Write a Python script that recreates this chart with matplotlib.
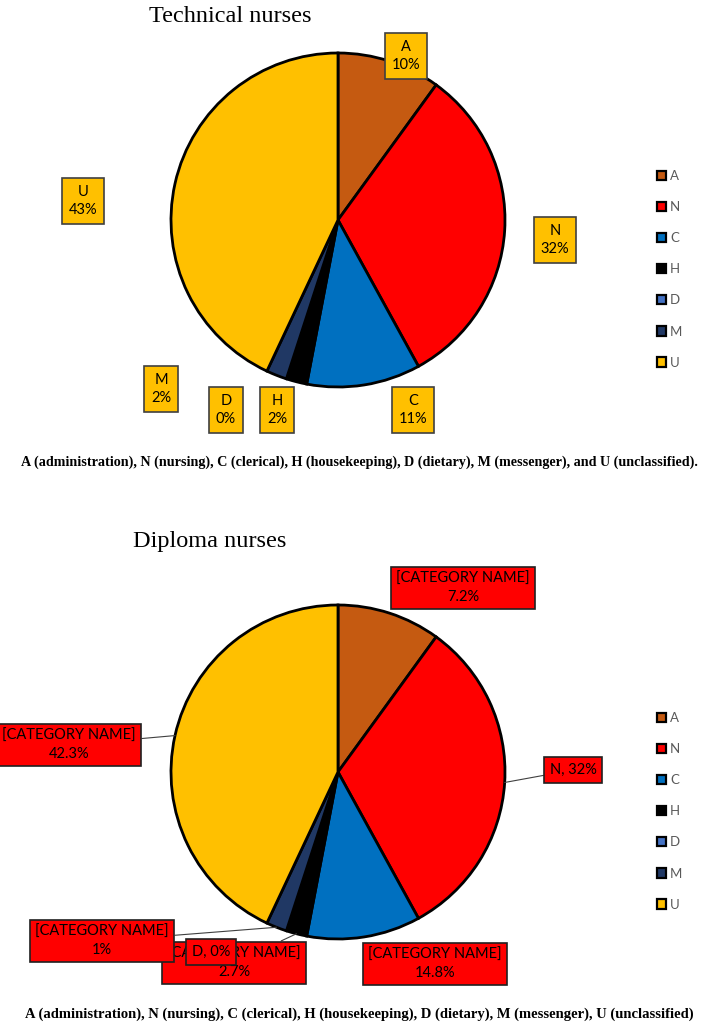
"""
Nurse work-time distribution by category — technical vs diploma nurses.
Two pies with boxed data labels, a legend for each, and a caption line.
"""

import matplotlib
matplotlib.use("Agg")
import matplotlib.pyplot as plt
from matplotlib.patches import Patch
import numpy as np

# ================================================================
# DATA
# ================================================================

CATEGORIES = ["A", "N", "C", "H", "D", "M", "U"]

# Technical nurses, share of time (%)
TECH_SHARE = [10, 32, 11, 2, 0, 2, 43]

# Diploma nurses: the source draws the wedges with these sizes
DIPLOMA_SHARE = [10, 32, 11, 2, 0, 2, 43]
# ...but its data labels carry different texts
DIPLOMA_LABELS = [
    "[CATEGORY NAME]\n7.2%",
    "N, 32%",
    "[CATEGORY NAME]\n14.8%",
    "[CATEGORY NAME]\n2.7%",
    "D, 0%",
    "[CATEGORY NAME]\n1%",
    "[CATEGORY NAME]\n42.3%",
]

TECH_TITLE = "Technical nurses"
DIPLOMA_TITLE = "Diploma nurses"
TECH_CAPTION = ("A (administration), N (nursing), C (clerical), H (housekeeping), "
                "D (dietary), M (messenger), and U (unclassified).")
DIPLOMA_CAPTION = ("A (administration), N (nursing), C (clerical), H (housekeeping), "
                   "D (dietary), M (messenger), U (unclassified)")

# ================================================================
# STYLE / LAYOUT (pixel space, origin top-left)
# ================================================================

W, H = 712, 1022
DPI = 100

COLORS = {
    "A": "#C55A11",
    "N": "#FF0000",
    "C": "#0070C0",
    "H": "#000000",
    "D": "#4472C4",
    "M": "#203864",
    "U": "#FFC000",
}

LABEL_FONT = ["Lato", "DejaVu Sans"]
SERIF = ["Liberation Serif", "DejaVu Serif"]

RADIUS = 167
TECH_CENTER = (338, 220)
DIPLOMA_CENTER = (338, 772)

# where each label box sits
TECH_LABEL_POS = {
    "A": (406, 56), "N": (555, 240), "C": (413, 410), "H": (277, 410),
    "D": (226, 410), "M": (161, 389), "U": (83, 201),
}
DIPLOMA_LABEL_POS = {
    "A": (463, 588), "N": (573, 770), "C": (435, 964), "H": (234, 963),
    "D": (211, 952), "M": (102, 941), "U": (69, 745),
}
# labels joined to their wedge by a leader line
DIPLOMA_LEADERS = ["N", "H", "M", "U"]
DIPLOMA_ZORDER = {"H": 5, "M": 6, "D": 7}


def draw_pie(ax, shares, center):
    """Clockwise pie from 12 o'clock (y axis is inverted, so counterclock in data)."""
    wedges, _ = ax.pie(
        shares, center=center, radius=RADIUS, startangle=-90, counterclock=True,
        colors=[COLORS[c] for c in CATEGORIES], normalize=True,
        wedgeprops=dict(edgecolor="black", linewidth=2.0),
    )
    return wedges


def wedge_anchor(wedge, center):
    """Point on the rim at the middle of a wedge (data coords)."""
    mid = np.deg2rad((wedge.theta1 + wedge.theta2) / 2)
    return (center[0] + RADIUS * np.cos(mid), center[1] + RADIUS * np.sin(mid))


def add_legend(fig, y_top):
    handles = [Patch(facecolor=COLORS[c], edgecolor="black", linewidth=1.6)
               for c in CATEGORIES]
    fig.legend(handles, CATEGORIES, loc="upper left",
               bbox_to_anchor=(645 / W, 1 - y_top / H),
               frameon=False, prop={"family": LABEL_FONT, "size": 9.5},
               labelcolor="#595959", labelspacing=1.45,
               handlelength=0.7, handleheight=0.7, handletextpad=0.3)


def main():
    fig = plt.figure(figsize=(W / DPI, H / DPI), dpi=DPI)
    ax = fig.add_axes([0, 0, 1, 1])

    # ---- Technical nurses ----
    draw_pie(ax, TECH_SHARE, TECH_CENTER)
    for cat, val in zip(CATEGORIES, TECH_SHARE):
        x, y = TECH_LABEL_POS[cat]
        ax.text(x, y, f"{cat}\n{val}%", ha="center", va="center",
                family=LABEL_FONT, fontsize=10.5, linespacing=1.4, zorder=5,
                bbox=dict(boxstyle="square,pad=0.45", facecolor="#FFC000",
                          edgecolor="#404040", linewidth=1.2))

    # ---- Diploma nurses ----
    wedges = draw_pie(ax, DIPLOMA_SHARE, DIPLOMA_CENTER)
    for cat, wedge, txt in zip(CATEGORIES, wedges, DIPLOMA_LABELS):
        arrow = None
        if cat in DIPLOMA_LEADERS:
            arrow = dict(arrowstyle="-", color="#404040", linewidth=0.8,
                         shrinkA=0, shrinkB=0)
        ax.annotate(txt, xy=wedge_anchor(wedge, DIPLOMA_CENTER),
                    xytext=DIPLOMA_LABEL_POS[cat], textcoords="data",
                    ha="center", va="center", family=LABEL_FONT, fontsize=10.5,
                    linespacing=1.35, zorder=DIPLOMA_ZORDER.get(cat, 5),
                    arrowprops=arrow,
                    bbox=dict(boxstyle="square,pad=0.38", facecolor="#FF0000",
                              edgecolor="#202020", linewidth=1.2))

    # pie() resets limits; restore pixel space
    ax.set_xlim(0, W)
    ax.set_ylim(H, 0)
    ax.set_aspect("equal")
    ax.axis("off")

    # ---- titles / captions ----
    ax.text(230, 16, TECH_TITLE, ha="center", va="center", family=SERIF, fontsize=17.5)
    ax.text(210, 541, DIPLOMA_TITLE, ha="center", va="center", family=SERIF, fontsize=17.5)
    ax.text(359, 462, TECH_CAPTION, ha="center", va="center", family=SERIF,
            fontsize=10.2, fontweight="bold")
    ax.text(359, 1014, DIPLOMA_CAPTION, ha="center", va="center", family=SERIF,
            fontsize=10.5, fontweight="bold")

    add_legend(fig, 158)
    add_legend(fig, 700)

    fig.savefig("out.png", dpi=DPI)
    plt.close(fig)


if __name__ == "__main__":
    main()
